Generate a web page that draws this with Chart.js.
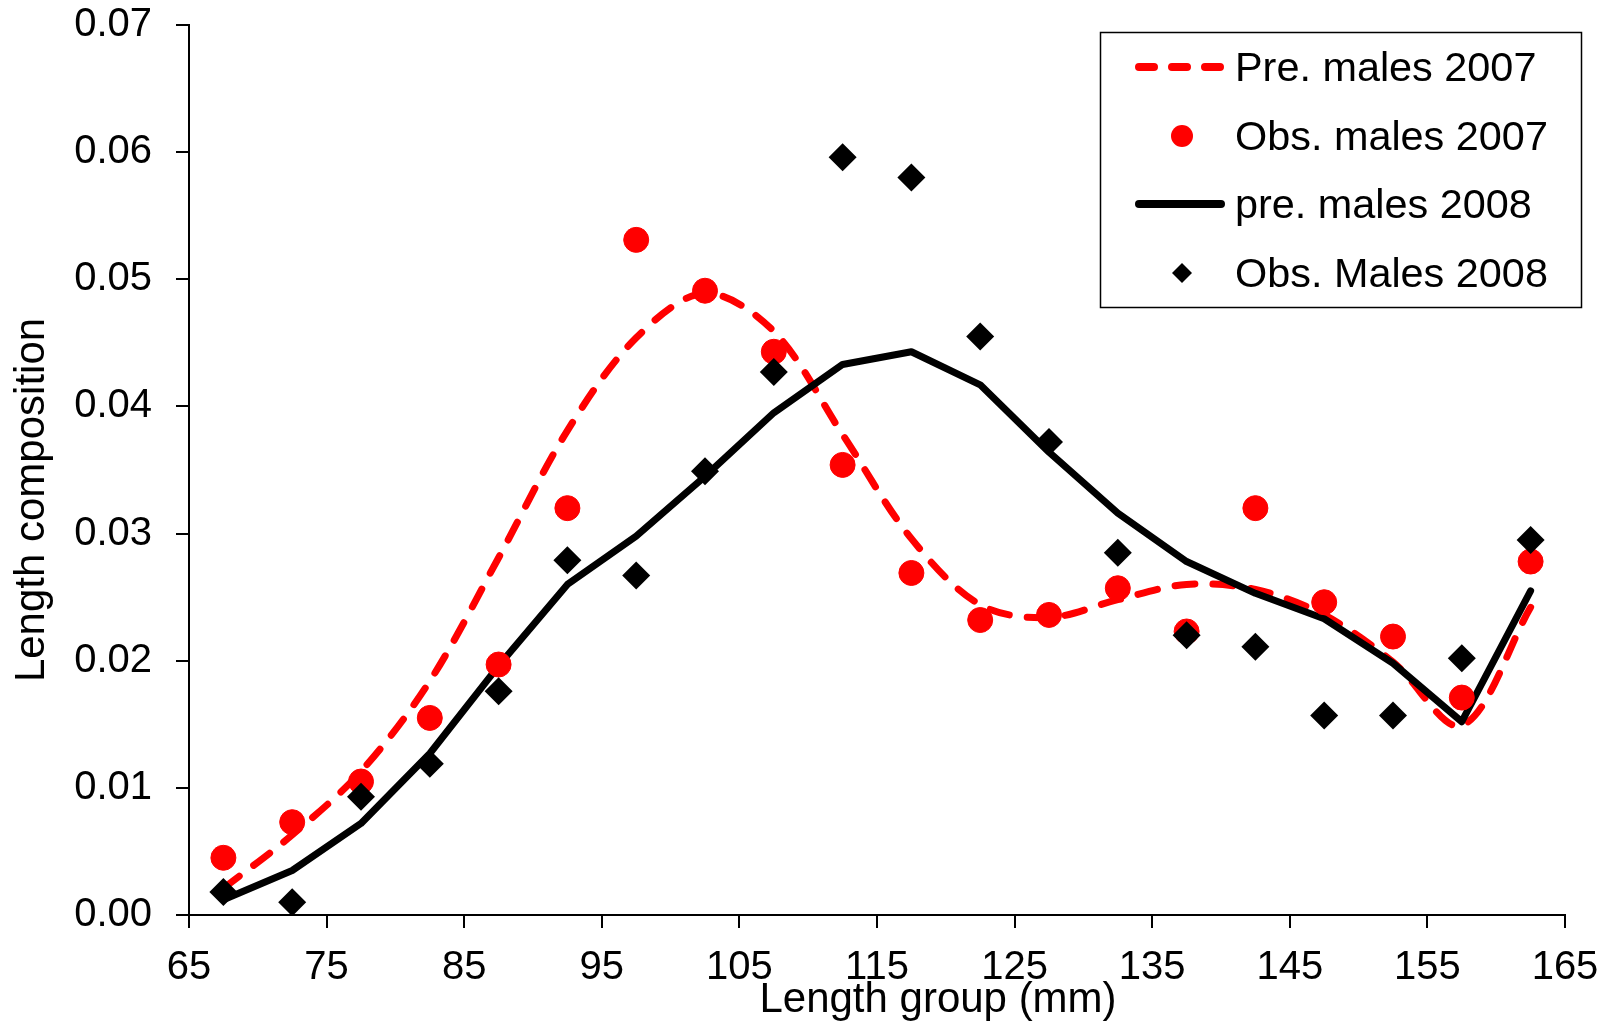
<!DOCTYPE html>
<html><head><meta charset="utf-8">
<script src="https://cdn.jsdelivr.net/npm/chart.js@4.4.1/dist/chart.umd.min.js"></script>
<style>html,body{margin:0;padding:0;background:#fff;overflow:hidden}canvas{display:block}</style>
</head><body>
<canvas id="c" width="1617" height="1025"></canvas>
<script>
// ---- data ----
const lengthGroups = [67.5, 72.5, 77.5, 82.5, 87.5, 92.5, 97.5, 102.5, 107.5, 112.5,
                      117.5, 122.5, 127.5, 132.5, 137.5, 142.5, 147.5, 152.5, 157.5, 162.5];
const preMales2007 = [0.0021, 0.0063, 0.0113, 0.0184, 0.0281, 0.0381, 0.0454, 0.0489, 0.0459, 0.0378,
                      0.0296, 0.0244, 0.0234, 0.0248, 0.0260, 0.0256, 0.0236, 0.0199, 0.0149, 0.0242];
const obsMales2007 = [0.0045, 0.0073, 0.0105, 0.0155, 0.0197, 0.0320, 0.0531, 0.0491, 0.0443, 0.0354,
                      0.0269, 0.0232, 0.0236, 0.0257, 0.0223, 0.0320, 0.0246, 0.0219, 0.0171, 0.0278];
const preMales2008 = [0.0012, 0.0035, 0.0072, 0.0127, 0.0196, 0.0260, 0.0298, 0.0345, 0.0395, 0.0433,
                      0.0443, 0.0417, 0.0364, 0.0316, 0.0278, 0.0253, 0.0233, 0.0198, 0.0152, 0.0255];
const obsMales2008 = [0.0018, 0.0010, 0.0093, 0.0119, 0.0176, 0.0279, 0.0267, 0.0349, 0.0427, 0.0596,
                      0.0580, 0.0455, 0.0372, 0.0285, 0.0220, 0.0211, 0.0157, 0.0157, 0.0202, 0.0295];
const seriesNames = ['Pre. males 2007', 'Obs. males 2007', 'pre. males 2008', 'Obs. Males 2008'];
const xTickValues = [65, 75, 85, 95, 105, 115, 125, 135, 145, 155, 165];
const yTickValues = [0.00, 0.01, 0.02, 0.03, 0.04, 0.05, 0.06, 0.07];
const xTitle = 'Length group (mm)';
const yTitle = 'Length composition';

// ---- styling ----
const FONT = '"Liberation Sans", Arial, sans-serif';
const pts = arr => lengthGroups.map((x, i) => ({x: x, y: arr[i]}));

const datasets = [
  { label: seriesNames[0], data: pts(preMales2007), showLine: true, pointRadius: 0,
    borderColor: '#ff0000', borderWidth: 7, borderDash: [20, 18], borderCapStyle: 'round',
    tension: 0.33, order: 3, fill: false },
  { label: seriesNames[1], data: pts(obsMales2007), showLine: false, pointStyle: 'circle',
    pointRadius: 12.5, pointBorderWidth: 1, pointBackgroundColor: '#ff0000', pointBorderColor: '#ff0000',
    borderColor: '#ff0000', backgroundColor: '#ff0000', order: 1 },
  { label: seriesNames[2], data: pts(preMales2008), showLine: true, pointRadius: 0,
    borderColor: '#000000', borderWidth: 7, borderJoinStyle: 'round', borderCapStyle: 'round',
    tension: 0, order: 2, fill: false },
  { label: seriesNames[3], data: pts(obsMales2008), showLine: false, pointStyle: 'rectRot',
    pointRadius: 14, pointBorderWidth: 0, pointBackgroundColor: '#000000', pointBorderColor: '#000000',
    borderColor: '#000000', backgroundColor: '#000000', order: 0 }
];

const boxLegend = {
  id: 'boxLegend',
  afterDraw(chart) {
    const ctx = chart.ctx;
    const L = 1100, T = 32, R = 1581, B = 307;
    ctx.save();
    ctx.lineWidth = 1.5;
    ctx.strokeStyle = '#000';
    ctx.strokeRect(L + 0.5, T + 0.5, R - L, B - T);
    const rows = [67, 136, 204, 273];
    chart.data.datasets.forEach((ds, i) => {
      const y = rows[i];
      if (ds.showLine) {
        ctx.save();
        ctx.strokeStyle = ds.borderColor;
        ctx.lineWidth = 8;
        ctx.lineCap = 'round';
        ctx.setLineDash(ds.borderDash ? [15, 18] : []);
        ctx.beginPath();
        ctx.moveTo(1139, y);
        ctx.lineTo(1221, y);
        ctx.stroke();
        ctx.restore();
      } else {
        ctx.fillStyle = ds.pointBackgroundColor;
        ctx.beginPath();
        if (ds.pointStyle === 'circle') {
          ctx.arc(1182, y, 11, 0, Math.PI * 2);
        } else {
          ctx.moveTo(1182 - 10, y); ctx.lineTo(1182, y - 10);
          ctx.lineTo(1182 + 10, y); ctx.lineTo(1182, y + 10);
          ctx.closePath();
        }
        ctx.fill();
      }
      ctx.fillStyle = '#000';
      ctx.font = '41.4px ' + FONT;
      ctx.textAlign = 'left';
      ctx.textBaseline = 'alphabetic';
      ctx.fillText(ds.label, 1235, y + 14);
    });
    ctx.restore();
  }
};

const axisTitles = {
  id: 'axisTitles',
  afterDraw(chart) {
    const ctx = chart.ctx, a = chart.chartArea;
    ctx.save();
    ctx.fillStyle = '#000';
    ctx.font = '42px ' + FONT;
    ctx.textAlign = 'center';
    ctx.textBaseline = 'alphabetic';
    ctx.fillText(xTitle, (a.left + a.right) / 2 + 61, 1012);
    ctx.translate(44, (a.top + a.bottom) / 2 + 30);
    ctx.rotate(-Math.PI / 2);
    ctx.fillText(yTitle, 0, 0);
    ctx.restore();
  }
};

new Chart(document.getElementById('c'), {
  type: 'line',
  data: { datasets: datasets },
  plugins: [boxLegend, axisTitles],
  options: {
    responsive: false,
    devicePixelRatio: 1,
    animation: false,
    layout: { padding: { left: 0, top: 25, right: 52, bottom: 0 } },
    plugins: { legend: { display: false }, tooltip: { enabled: false } },
    scales: {
      x: {
        type: 'linear', min: 65, max: 165,
        afterBuildTicks: s => { s.ticks = xTickValues.map(v => ({value: v})); },
        afterFit: s => { s.height = 110; s.paddingLeft = 0; s.paddingRight = 0; },
        grid: { display: true, drawOnChartArea: false, drawTicks: true, tickLength: 13, color: '#000', lineWidth: 2 },
        border: { display: true, color: '#000', width: 2 },
        ticks: { color: '#000', padding: 16, maxRotation: 0, autoSkip: false,
                 font: { family: FONT, size: 40 }, callback: v => String(v) },
        title: { display: false }
      },
      y: {
        type: 'linear', min: 0, max: 0.07,
        afterBuildTicks: s => { s.ticks = yTickValues.map(v => ({value: v})); },
        afterFit: s => { s.width = 189; s.paddingTop = 0; s.paddingBottom = 0; },
        grid: { display: true, drawOnChartArea: false, drawTicks: true, tickLength: 13, color: '#000', lineWidth: 2 },
        border: { display: true, color: '#000', width: 2 },
        ticks: { color: '#000', padding: 24, autoSkip: false,
                 font: { family: FONT, size: 40 }, callback: v => Number(v).toFixed(2) },
        title: { display: false }
      }
    }
  }
});
</script>
</body></html>
